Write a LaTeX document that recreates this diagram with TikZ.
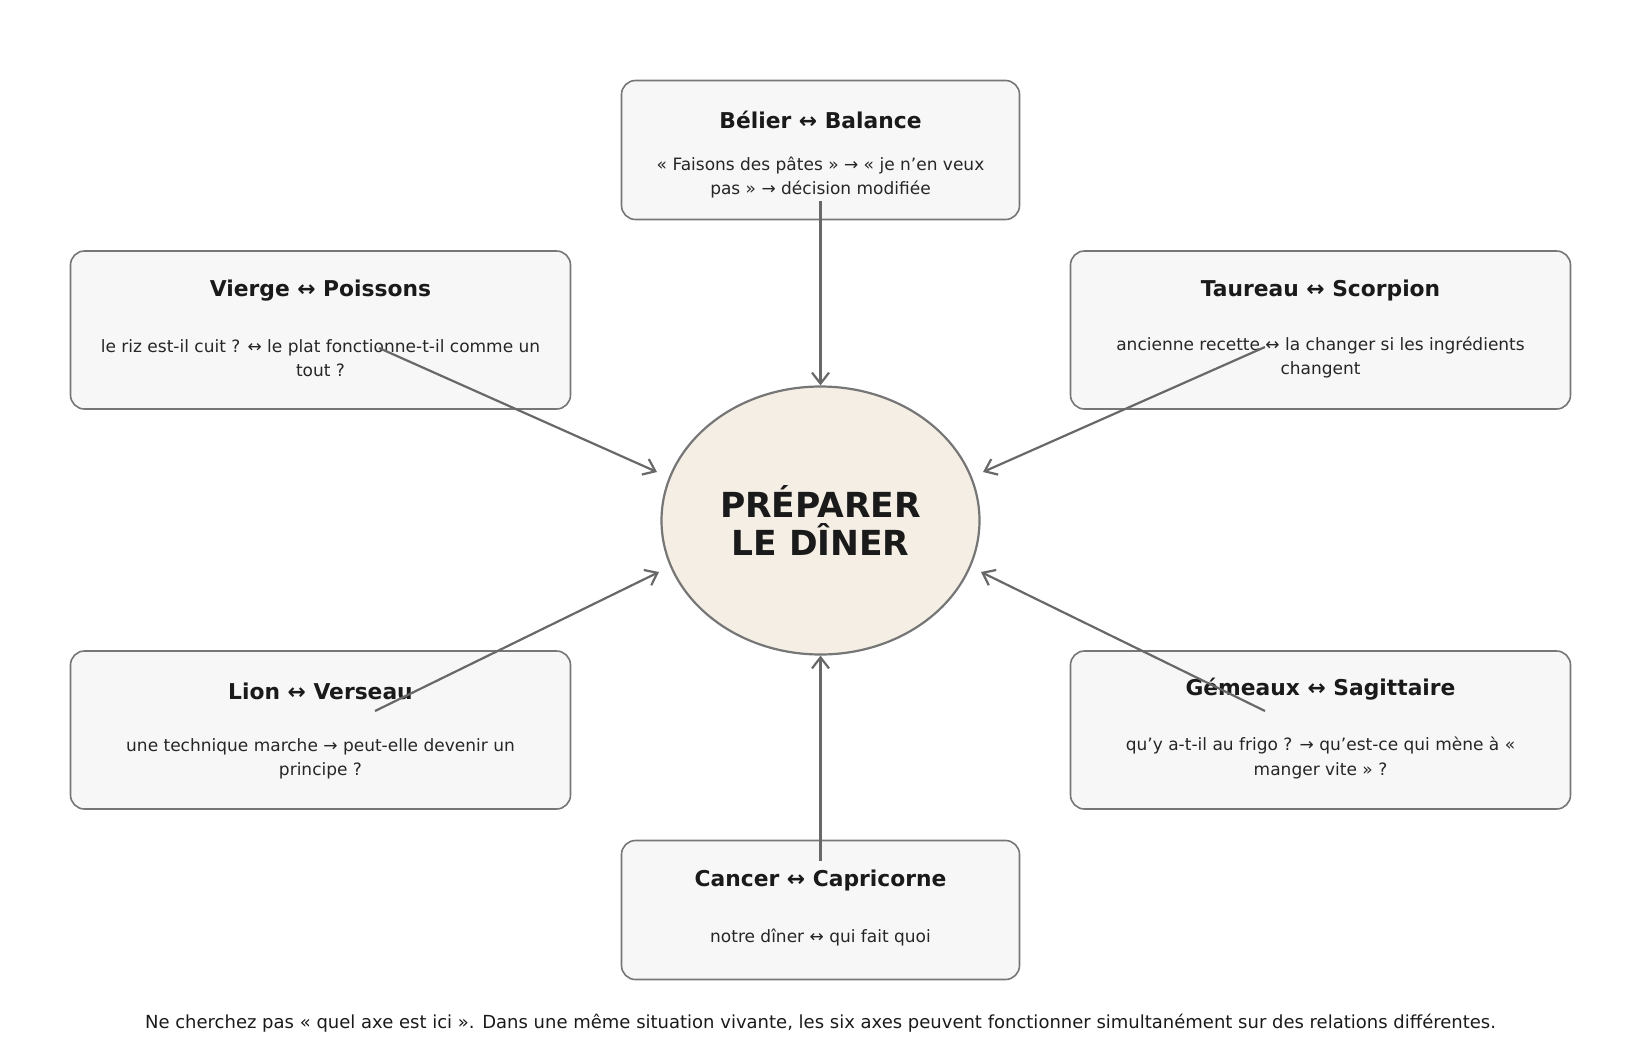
\documentclass[tikz,border=0pt]{standalone}
\usepackage{fontspec}
\setmainfont{DejaVu Sans}
\usetikzlibrary{calc,positioning,shapes.geometric,arrows.meta}
\definecolor{boxline}{HTML}{767676}
\definecolor{boxfill}{HTML}{F7F7F7}
\definecolor{dinerfill}{HTML}{F4EEE4}
\definecolor{linkgray}{HTML}{686868}
\definecolor{ink}{HTML}{1A1A1A}
\definecolor{inksoft}{HTML}{262626}
\tikzset{
    >={Straight Barb[length=11pt,width=17pt]},
    axebox/.style={
        rectangle,
        rounded corners=14pt,
        draw=boxline, line width=1.6pt,
        fill=boxfill,
        minimum width=500pt,
        minimum height=158pt
    },
    axeboxmid/.style={
        axebox,
        minimum width=398pt,
        minimum height=139pt
    },
    axetitle/.style={font=\bfseries\fontsize{21.8}{26}\selectfont, text=ink, inner sep=0pt},
    axetext/.style={font=\fontsize{17}{24.2}\selectfont, text=inksoft, align=center, inner sep=0pt},
    link/.style={draw=linkgray, line width=2.2pt, ->}
}

\begin{document}
\begin{tikzpicture}[x=1pt, y=-1pt]
    \useasboundingbox (0,0) rectangle (1639,1061);
    % the six axes
    \node[axeboxmid] (bel) at (820.5,150) {};
    \node[axebox] (vie) at (320.5,330) {};
    \node[axebox] (tau) at (1320.5,330) {};
    \node[axebox] (lio) at (320.5,730) {};
    \node[axebox] (gem) at (1320.5,730) {};
    \node[axeboxmid] (can) at (820.5,910) {};

    \node[axetitle] (belT) at ($(bel)+(0,-30)$) {Bélier ↔ Balance};
    \node[axetext] (belB) at ($(bel)+(0,27.5)$) {« Faisons des pâtes » → « je n’en veux\\pas » → décision modifiée};
    \node[axetitle] (vieT) at ($(vie)+(0,-39.5)$) {Vierge ↔ Poissons};
    \node[axetext] (vieB) at ($(vie)+(0,28.5)$) {le riz est-il cuit ? ↔ le plat fonctionne-t-il comme un\\tout ?};
    \node[axetitle] (tauT) at ($(tau)+(0,-39.5)$) {Taureau ↔ Scorpion};
    \node[axetext] (tauB) at ($(tau)+(0,27.5)$) {ancienne recette ↔ la changer si les ingrédients\\changent};
    \node[axetitle] (lioT) at ($(lio)+(0,-39)$) {Lion ↔ Verseau};
    \node[axetext] (lioB) at ($(lio)+(0,29)$) {une technique marche → peut-elle devenir un\\principe ?};
    \node[axetitle] (gemT) at ($(gem)+(0,-41)$) {Gémeaux ↔ Sagittaire};
    \node[axetext] (gemB) at ($(gem)+(0,28)$) {qu’y a-t-il au frigo ? → qu’est-ce qui mène à «\\manger vite » ?};
    \node[axetitle] (canT) at ($(can)+(0,-30)$) {Cancer ↔ Capricorne};
    \node[axetext] (canB) at ($(can)+(0,27.5)$) {notre dîner ↔ qui fait quoi};

    % centre
    \node[ellipse, draw=boxline, line width=2.2pt, fill=dinerfill,
          minimum width=318pt, minimum height=268pt, inner sep=0pt,
          font=\bfseries\fontsize{34.5}{37.5}\selectfont, text=ink, align=center]
          (diner) at (820.5,520.5) {PRÉPARER\\LE DÎNER};

    % start points inside the boxes, free ends round the centre
    \coordinate (belS) at ($(bel)+(0,51)$);
    \coordinate (vieS) at ($(vie)+(58.5,18)$);
    \coordinate (tauS) at ($(tau)+(-55.5,17)$);
    \coordinate (lioS) at ($(lio)+(54.5,-19)$);
    \coordinate (gemS) at ($(gem)+(-55.5,-19)$);
    \coordinate (canS) at ($(can)+(0,-49)$);
    \coordinate (inNW) at ($(diner)+(-163.5,-48.5)$);
    \coordinate (inNE) at ($(diner)+(162.5,-48.5)$);
    \coordinate (inSW) at ($(diner)+(-161.5,51.5)$);
    \coordinate (inSE) at ($(diner)+(160.5,51.5)$);

    \draw[link] (belS) -- (diner.north);
    \draw[link] (vieS) -- (inNW);
    \draw[link] (tauS) -- (inNE);
    \draw[link] (lioS) -- (inSW);
    \draw[link] (gemS) -- (inSE);
    \draw[link] (canS) -- (diner.south);

    \node[font=\fontsize{18}{21}\selectfont, text=ink] (note) at (820.5,1023)
        {Ne cherchez pas « quel axe est ici ». Dans une même situation vivante, les six axes peuvent fonctionner simultanément sur des relations différentes.};
\end{tikzpicture}
\end{document}
